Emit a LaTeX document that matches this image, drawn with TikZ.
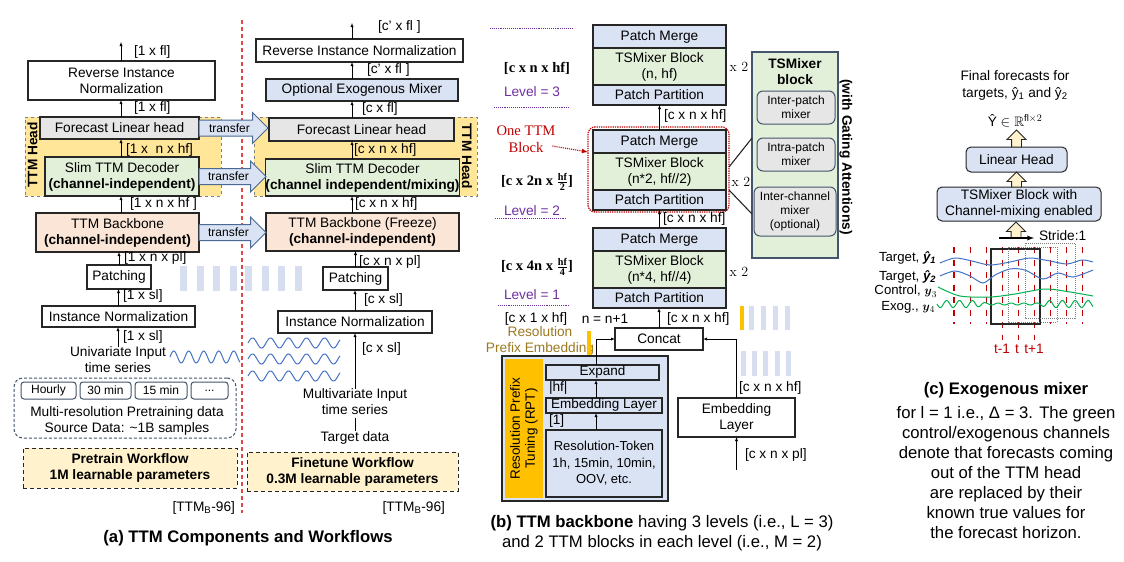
\documentclass[tikz,border=0pt]{standalone}
\usepackage{amsmath,amssymb}
\usepackage{fontspec}
\setmainfont{Liberation Sans}
\newfontfamily\timesfont{Liberation Serif}
\usepackage{xcolor}
\usepackage{tikz}
\usetikzlibrary{positioning,shapes.arrows}

\definecolor{boxline}{HTML}{262626}
\definecolor{headyel}{HTML}{FFE699}
\definecolor{wfyel}{HTML}{FFF2CC}
\definecolor{lgray}{HTML}{E6E6E6}
\definecolor{lgreen}{HTML}{E2F0D9}
\definecolor{lorange}{HTML}{FBE5D6}
\definecolor{lblue}{HTML}{DAE3F3}
\definecolor{barblue}{HTML}{D6DEEF}
\definecolor{slate}{HTML}{44546A}
\definecolor{xferline}{HTML}{4A6A95}
\definecolor{rptorange}{HTML}{FFC000}
\definecolor{lvlpurple}{HTML}{7030A0}
\definecolor{ttmred}{HTML}{C00000}
\definecolor{divred}{HTML}{E04848}
\definecolor{golden}{HTML}{9C7A22}
\definecolor{waveblue}{HTML}{4472C4}
\definecolor{wavegrn}{HTML}{00B050}

\newcommand{\fmain}{\fontsize{13.7}{16}\selectfont}
\newcommand{\fsmall}{\fontsize{12}{14}\selectfont}
\newcommand{\fcap}{\fontsize{16.7}{20}\selectfont}

\begin{document}
\begin{tikzpicture}[x=1pt,y=-1pt,>=latex,
    every node/.style={font=\fmain, inner sep=0pt, outer sep=0pt, align=center},
    boxed/.style={draw=boxline, line width=1.1pt, fill=white},
    headbox/.style={draw=gray, dashed, line width=0.8pt, fill=headyel},
    wfbox/.style={draw=boxline, line width=1pt, dash pattern=on 4pt off 3pt, fill=wfyel, font=\fmain\bfseries},
    databox/.style={draw=slate, line width=1pt, dash pattern=on 3pt off 2pt, rounded corners=9pt},
    resbox/.style={draw=slate, line width=1pt, rounded corners=3pt, fill=white, font=\fsmall, minimum height=17},
    xfer/.style={single arrow, draw=xferline, fill=lblue, line width=1pt, font=\fsmall,
                 text height=8.5pt, text depth=0.5pt, inner ysep=3pt, inner xsep=2pt,
                 single arrow head extend=7.5pt},
    uparrow/.style={single arrow, rotate=90, draw=boxline, fill=wfyel, line width=0.9pt,
                    inner sep=4.5pt, single arrow head extend=4.5pt},
    dimlbl/.style={anchor=west},
    stack/.style={boxed, minimum width=133},
    lvl/.style={text=lvlpurple},
    lvlline/.style={draw=lvlpurple, densely dotted, line width=0.9pt},
    serifdim/.style={font=\timesfont\fontsize{14.5}{16}\selectfont\bfseries},
    rep/.style={font=\fontfamily{lmr}\fontsize{14}{16}\selectfont},
    ttmnote/.style={text=ttmred, font=\timesfont\fontsize{14.6}{17}\selectfont},
    panel/.style={draw=slate, line width=1.1pt, fill=lgreen},
    mixer/.style={draw=slate, line width=1pt, fill=lgray, rounded corners=6pt, font=\fontsize{12}{14}\selectfont},
    headc/.style={draw=boxline, line width=1pt, fill=lblue, rounded corners=5pt},
    tline/.style={draw=ttmred, line width=1.2pt, dash pattern=on 6pt off 6.5pt},
    bluewave/.style={draw=waveblue, line width=1pt},
    greenwave/.style={draw=wavegrn, line width=1pt}]

\useasboundingbox (0,0) rectangle (1124,562);
\fill[white] (0,0) rectangle (1124,562);

% ---------- (a) pretrain workflow
\node[headbox, minimum width=196, minimum height=79] (headA) at (123,156.5) {};
\node[rotate=90, font=\fmain\bfseries] (headAlbl) at (32.5,155) {TTM Head};
\node[boxed, minimum width=187, minimum height=39] (rinA) at (121.5,80.5) {Reverse Instance\\Normalization};
\node[boxed, fill=lgray, minimum width=159, minimum height=22] (fcA) at (119.5,128) {Forecast Linear head};
\node[boxed, fill=lgreen, minimum width=154, minimum height=39] (decA) at (122,176.5) {Slim TTM Decoder\\\textbf{(channel-independent)}};
\node[boxed, fill=lorange, minimum width=163, minimum height=39] (bbA) at (117.5,232.5) {TTM Backbone\\\textbf{(channel-independent)}};
\node[boxed, minimum width=64, minimum height=24] (patA) at (119,277) {Patching};
\node[boxed, minimum width=153, minimum height=21] (inA) at (118.5,316.5) {Instance Normalization};
\node (srcA) at (118,360) {Univariate Input\\time series};

\coordinate (colA) at (121,0);
\coordinate (outA) at (121,42);
\draw[->] (rinA.north -| colA) -- (outA);
\draw[->] (fcA.north -| colA) -- (rinA.south -| colA);
\draw[->] (decA.north -| colA) -- (fcA.south -| colA);
\draw[->] (bbA.north -| colA) -- (decA.south -| colA);
\draw[->] (patA.north) -- (patA.north |- bbA.south);
\draw[->] (inA.north) -- (inA.north |- patA.south);
\draw[->] (srcA.north) -- (srcA.north |- inA.south);

\node[dimlbl] (dA1) at (134,52) {[1 x fl]};
\node[dimlbl] (dA2) at (134,108) {[1 x fl]};
\node[dimlbl] (dA3) at (126,150) {[1 x \ n x hf]};
\node[dimlbl] (dA4) at (130,204) {[1 x n x hf ]};
\node[dimlbl] (dA5) at (124,258) {[1 x n x pl]};
\node[dimlbl] (dA6) at (123,296) {[1 x sl]};
\node[dimlbl] (dA7) at (123,337) {[1 x sl]};

\draw[bluewave] plot[domain=170:240, samples=90] (\x, {357-6*sin(24*(\x-170))});

\node[databox, minimum width=222, minimum height=60] (dataA) at (125,408) {};
\node[resbox, minimum width=55] (hourly) at (48.5,390.5) {Hourly};
\node[resbox, minimum width=51, right=4pt of hourly] (m30) {30 min};
\node[resbox, minimum width=52, right=4pt of m30] (m15) {15 min};
\node[resbox, minimum width=37, right=4pt of m15] (mdots) {...};
\node (dataTxt) at (127,421) {Multi-resolution Pretraining data\\Source Data: \textasciitilde1B samples};

\node[wfbox, minimum width=214, minimum height=40] (wfA) at (130,468) {Pretrain Workflow\\1M learnable parameters};
\node[anchor=east] (verA) at (235,508) {[TTM\textsubscript{B}-96]};

\foreach \bx in {180,197,213,230,245,262,278,295}
  \fill[barblue] (\bx,266) rectangle ++(7,25);

\draw[divred, line width=1.1pt, dash pattern=on 4pt off 3pt] (242,20) -- (242,513);

% ---------- (a) finetune workflow
\node[headbox, minimum width=223, minimum height=79] (headB) at (365.5,156.5) {};
\node[rotate=-90, font=\fmain\bfseries] (headBlbl) at (467,156) {TTM Head};
\node[boxed, minimum width=207, minimum height=23] (rinB) at (359.5,50.5) {Reverse Instance Normalization};
\node[boxed, fill=lblue, minimum width=192, minimum height=22] (exoB) at (362,90) {Optional Exogenous Mixer};
\node[boxed, fill=lgray, minimum width=185, minimum height=23] (fcB) at (361.5,129.5) {Forecast Linear head};
\node[boxed, fill=lgreen, minimum width=193, minimum height=37] (decB) at (362.5,177.5) {Slim TTM Decoder\\\textbf{(channel independent/mixing)}};
\node[boxed, fill=lorange, minimum width=193, minimum height=38] (bbB) at (362.5,232) {TTM Backbone (Freeze)\\\textbf{(channel-independent)}};
\node[boxed, minimum width=65, minimum height=23] (patB) at (355.5,278.5) {Patching};
\node[boxed, minimum width=154, minimum height=22] (inB) at (355,322) {Instance Normalization};
\node (srcB) at (355,402) {Multivariate Input\\time series};
\node (tgtB) at (355,438) {Target data};
\draw[shorten <=3pt, shorten >=1pt] (srcB.south) -- (tgtB.north);

\coordinate (colB) at (352,0);
\coordinate (outB) at (352,23);
\draw[->] (rinB.north -| colB) -- (outB);
\draw[->] (exoB.north -| colB) -- (rinB.south -| colB);
\draw[->] (fcB.north -| colB) -- (exoB.south -| colB);
\draw[->] (decB.north -| colB) -- (fcB.south -| colB);
\draw[->] (bbB.north -| colB) -- (decB.south -| colB);
\draw[->] (patB.north) -- (patB.north |- bbB.south);
\draw[->] (inB.north) -- (inB.north |- patB.south);
\draw[->] (srcB.north) -- (srcB.north |- inB.south);

\node[dimlbl] (dF1) at (378,27) {[c’ x fl ]};
\node[dimlbl] (dF2) at (367,70) {[c’ x fl ]};
\node[dimlbl] (dF3) at (362,109) {[c x fl]};
\node[dimlbl] (dF4) at (354,150) {[c x n x hf]};
\node[dimlbl] (dF5) at (355,204) {[c x n x hf]};
\node[dimlbl] (dF6) at (359,262) {[c x n x pl]};
\node[dimlbl] (dF7) at (364,300) {[c x sl]};
\node[dimlbl] (dF8) at (362,349) {[c x sl]};

\foreach \wy in {343,359,376}
  \draw[bluewave] plot[domain=248:340, samples=110] (\x, {\wy-5*sin(20*(\x-248))});

\node[wfbox, minimum width=211, minimum height=39] (wfB) at (352.5,471.5) {Finetune Workflow\\0.3M learnable parameters};
\node[anchor=east] (verB) at (445,508) {[TTM\textsubscript{B}-96]};

\node[xfer, anchor=tail, minimum height=69] (tr1) at (fcA.east) {transfer};
\node[xfer, anchor=tail, minimum height=67] (tr2) at (decA.east) {transfer};
\node[xfer, anchor=tail, minimum height=67] (tr3) at (bbA.east) {transfer};

\node[font=\fcap\bfseries] (capA) at (248,538) {(a) TTM Components and Workflows};

% ---------- (b) backbone
\node[stack, fill=lblue, minimum height=23] (pm3) at (659.5,36.5) {Patch Merge};
\node[stack, fill=lgreen, minimum height=37, below=0pt of pm3] (mix3) {TSMixer Block\\(n, hf)};
\node[stack, fill=lblue, minimum height=20, below=0pt of mix3] (pp3) {Patch Partition};
\node[stack, fill=lblue, minimum height=23] (pm2) at (659.5,141.5) {Patch Merge};
\node[stack, fill=lgreen, minimum height=37, below=0pt of pm2] (mix2) {TSMixer Block\\(n*2, hf//2)};
\node[stack, fill=lblue, minimum height=20, below=0pt of mix2] (pp2) {Patch Partition};
\node[stack, fill=lblue, minimum height=23] (pm1) at (659.5,239.5) {Patch Merge};
\node[stack, fill=lgreen, minimum height=37, below=0pt of pm1] (mix1) {TSMixer Block\\(n*4, hf//4)};
\node[stack, fill=lblue, minimum height=20, below=0pt of mix1] (pp1) {Patch Partition};
\node[draw=ttmred, densely dotted, line width=1.3pt, rounded corners=7pt,
      minimum width=141, minimum height=85] (blk) at (658.5,169.5) {};

\node[rep] (rep3) at (739,67) {x 2};
\node[rep] (rep2) at (741,182) {x 2};
\node[rep] (rep1) at (739,272) {x 2};

\node[boxed, minimum width=88, minimum height=22] (concat) at (659,339) {Concat};
\node[boxed, minimum width=117, minimum height=39] (embB) at (736.5,417.5) {Embedding\\Layer};
\coordinate (inEmb) at (736.5,470);

\draw[->] (pm2.north) -- (pp3.south);
\draw[->] (pm1.north) -- (pp2.south);
\draw[->] (concat.north) -- (concat.north |- pp1.south);
\draw[->] (embB.north) |- (concat.east);
\draw[->] (inEmb) -- (embB.south);

\node[dimlbl] (dB1) at (664,116) {[c x n x hf]};
\node[dimlbl] (dB2) at (663,219) {[c x n x hf]};
\node[dimlbl] (dB3) at (667,319) {[c x n x hf]};
\node[dimlbl] (dB4) at (739,388) {[c x n x hf]};
\node[dimlbl] (dB5) at (745,455) {[c x n x pl]};
\node (nplus) at (605,319) {n = n+1};

\fill[rptorange] (740,306) rectangle (744,330);
\foreach \bx in {749,761,773,785}
  \fill[barblue] (\bx,306) rectangle ++(5,24);
\foreach \bx in {741,752,763,775,786}
  \fill[barblue] (\bx,351) rectangle ++(5,25);

% level side labels
\draw[lvlline] (490,28) -- (572,28);
\node[serifdim] (shp3) at (537,68) {[c x n x hf]};
\node[lvl] (lvl3) at (532,92) {Level = 3};
\draw[lvlline] (494,107) -- (570,107);
\node[ttmnote] (onettm) at (526,139) {One TTM\\Block};
\node[serifdim] (shp2) at (537,182) {[c x 2n x $\frac{\textbf{hf}}{\textbf{2}}$]};
\node[lvl] (lvl2) at (532,211) {Level = 2};
\draw[lvlline] (495,218) -- (566,218);
\node[serifdim] (shp1) at (537,267) {[c x 4n x $\frac{\textbf{hf}}{\textbf{4}}$]};
\node[lvl] (lvl1) at (532,295) {Level = 1};
\draw[lvlline] (498,305) -- (570,305);
\node (shp0) at (536,319) {[c x 1 x hf]};
\node[text=golden] (rpe) at (540,340.5) {Resolution\\Prefix Embedding};
\fill[rptorange] (587,331) rectangle (591,355);

\draw[->, draw=ttmred, densely dotted, line width=1.1pt] ([xshift=-3,yshift=-7]onettm.east) -- ([yshift=17.5]blk.west);

% resolution prefix tuning
\node[boxed, fill=lblue, minimum width=166, minimum height=145] (rpt) at (585,428.5) {};
\node[fill=rptorange, rotate=90, minimum width=139, minimum height=38,
      font=\fontsize{13.5}{15}\selectfont] (rptlbl) at (524,428.5) {Resolution Prefix\\Tuning (RPT)};
\node[boxed, fill=lblue, minimum width=113, minimum height=15, font=\fontsize{13.5}{15}\selectfont] (expand) at (602.5,372.5) {Expand};
\node[boxed, fill=lblue, minimum width=116, minimum height=15, font=\fontsize{13.5}{15}\selectfont] (embA) at (604,405.5) {Embedding Layer};
\node[boxed, fill=lblue, minimum width=116, minimum height=67, font=\fontsize{13}{16.5}\selectfont] (tok) at (604,463.5) {Resolution-Token\\1h, 15min, 10min,\\OOV, etc.};
\node[dimlbl] (hfl) at (549,388) {|hf|};
\node[dimlbl] (onel) at (549,421) {[1]};

\coordinate (colR) at (596,0);
\draw[->] (tok.north -| colR) -- (embA.south -| colR);
\draw[->] (embA.north -| colR) -- (expand.south -| colR);
\draw[->] (expand.north -| colR) |- (concat.west);

% TSMixer block detail
\node[panel, minimum width=86, minimum height=206] (tsm) at (795,155) {};
\node[font=\fmain\bfseries] (tsmTitle) at (795,72) {TSMixer\\block};
\node[mixer, minimum width=78, minimum height=33] (ipm) at (796,107.5) {Inter-patch\\mixer};
\node[mixer, minimum width=78, minimum height=33] (iam) at (796,154.5) {Intra-patch\\mixer};
\node[mixer, minimum width=82, minimum height=49] (icm) at (795,211.5) {Inter-channel\\mixer\\(optional)};
\node[rotate=-90, font=\fmain\bfseries] (gating) at (846,157) {(with Gating Attentions)};
\draw[line width=1.1pt, boxline] ([yshift=2.5]blk.east) -- ([yshift=17]tsm.west);
\draw[line width=1.1pt, boxline] ([yshift=-20.5]blk.east) -- ([yshift=-59]tsm.west);

\node[font=\fcap] (capB) at (662,533) {\textbf{(b) TTM backbone} having 3 levels (i.e., L = 3)\\and 2 TTM blocks in each level (i.e., M = 2)};

% ---------- (c) exogenous mixer
\node (ffc) at (1015,85) {Final forecasts for\\[1pt]targets, ŷ\textsubscript{1} and ŷ\textsubscript{2}};
\node (yhat) at (1015,121) {Ŷ $\in\mathbb{R}^{\mathrm{fl}\times 2}$};
\node[headc, minimum width=101, minimum height=25] (lh) at (1016.5,159.5) {Linear Head};
\node[headc, minimum width=164, minimum height=34] (tsmc) at (1019,204) {TSMixer Block with\\Channel-mixing enabled};
\node[uparrow, anchor=tail, minimum height=17] (ua1) at (lh.north) {};
\node[uparrow, anchor=tail, minimum height=15] (ua2) at (lh.south |- tsmc.north) {};
\coordinate (ua3tail) at (1016,238);
\node[uparrow, anchor=tail, minimum height=16] (ua3) at (ua3tail) {};

\coordinate (strS) at (999,238);
\node[anchor=west] (stride) at (1039,236) {Stride:1};
\draw[->, line width=1.3pt, shorten >=5pt] (strS) -- (strS -| stride.west);

\foreach \k in {0,1,2,6,7,8}
  \draw[tline] ({954+16.1*\k},247) -- ({954+16.1*\k},324);
\foreach \k in {3,4,5}
  \draw[tline] ({954+16.1*\k},247) -- ({954+16.1*\k},340);

\draw[line width=1.4pt, boxline] (991,249) rectangle (1040,324);
\draw[gray, densely dotted, line width=1pt] (1008,247) rectangle (1057,322);
\draw[gray, densely dotted, line width=1pt] (1025,243) rectangle (1075,318);

\draw[bluewave] plot[smooth] coordinates {(940,263) (955,258) (972,261) (990,265) (1010,262) (1030,258) (1050,261) (1067,264) (1082,260) (1093,262)};
\draw[bluewave] plot[smooth] coordinates {(940,276) (955,271) (970,276) (983,283) (995,275) (1010,269) (1025,270) (1043,279) (1058,273) (1073,277) (1093,270)};
\draw[greenwave] plot[smooth] coordinates {(938,287) (960,296) (990,297) (1015,294) (1045,289) (1070,292) (1093,296)};
\draw[greenwave] plot[domain=937:1093, samples=220] (\x, {304+(1+2.5*min(1,max(0,(abs(\x-1012)-25)/12)))*sin(28*(\x-937))});

\node[anchor=east, font=\fontsize{13.2}{15}\selectfont] (lt1) at (936,258) {Target, {\bfseries\itshape ŷ}\textsubscript{\bfseries\itshape 1}};
\node[anchor=east, font=\fontsize{13.2}{15}\selectfont] (lt2) at (936,276.5) {Target, {\bfseries\itshape ŷ}\textsubscript{\bfseries\itshape 2}};
\node[anchor=east, font=\fontsize{13.2}{15}\selectfont] (lc3) at (937,291.5) {Control, $\boldsymbol{y}_3$};
\node[anchor=east, font=\fontsize{13.2}{15}\selectfont] (le4) at (935,307) {Exog., $\boldsymbol{y}_4$};

\node[text=ttmred] (tlm) at (1002,349) {t-1};
\node[text=ttmred] (tl0) at (1017,349) {t};
\node[text=ttmred] (tlp) at (1034,349) {t+1};

\node[font=\fcap\bfseries] (capC) at (1006,390) {(c) Exogenous mixer};
\node[font=\fcap] (capCtxt) at (1006,473) {for l = 1 i.e., Δ = 3. The green\\control/exogenous channels\\denote that forecasts coming\\out of the TTM head\\are replaced by their\\known true values for\\the forecast horizon.};

\end{tikzpicture}
\end{document}
